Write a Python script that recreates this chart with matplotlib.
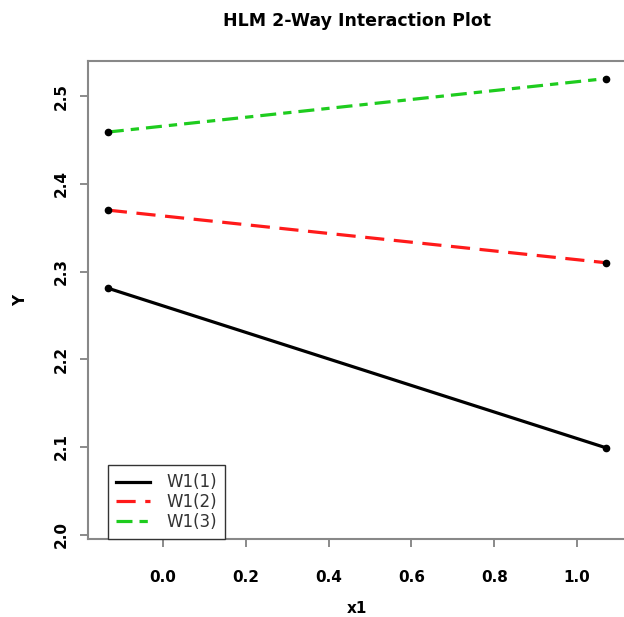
import matplotlib
matplotlib.use('Agg')
from matplotlib import pyplot as plt

# values
x_levels = [-0.133, 1.070]
w1_low = [2.281, 2.099]
w1_mid = [2.370, 2.310]
w1_high = [2.459, 2.520]
series_names = ['W1(1)', 'W1(2)', 'W1(3)']
x_ticks = [0.0, 0.2, 0.4, 0.6, 0.8, 1.0]
y_ticks = [2.0, 2.1, 2.2, 2.3, 2.4, 2.5]

colors = ['black', '#ff1a1a', '#1ecc1e']
styles = ['-', (0, (6, 3)), (0, (5, 2.2, 2.6, 2.2))]

fig = plt.figure(figsize=(6.24, 6.17), dpi=100)
ax = fig.add_axes([0.141, 0.1264, 0.862, 0.7747])

for ys, name, c, ls in zip([w1_low, w1_mid, w1_high], series_names, colors, styles):
    ax.plot(x_levels, ys, color=c, linestyle=ls, linewidth=2.3, label=name)
    ax.plot(x_levels, ys, 'o', color='black', markersize=4.5)

ax.set_xlim(-0.181, 1.118)
ax.set_ylim(1.995, 2.540)
ax.set_xticks(x_ticks)
ax.set_xticklabels([f'{v:.1f}' for v in x_ticks], fontweight='bold', fontsize=11)
ax.set_yticks(y_ticks)
ax.set_yticklabels([f'{v:.1f}' for v in y_ticks], fontweight='bold', fontsize=11,
                   rotation=90, va='center')
ax.tick_params(axis='both', length=6, width=1.2, color='#777777', direction='out')
ax.tick_params(axis='x', pad=16)
ax.tick_params(axis='y', pad=8)

for side in ['left', 'bottom', 'top', 'right']:
    ax.spines[side].set_color('#888888')
    ax.spines[side].set_linewidth(1.5)

ax.set_title('HLM 2-Way Interaction Plot', fontweight='bold', fontsize=12.5, pad=25)
ax.set_xlabel('x1', fontweight='bold', fontsize=11, labelpad=12)
ax.set_ylabel('Y', fontweight='bold', fontsize=11, labelpad=18)

leg = ax.legend(loc='lower left', bbox_to_anchor=(0.037, 0.0), fancybox=False,
                framealpha=1, edgecolor='#333333', fontsize=12, handlelength=2.0,
                handletextpad=1.0, labelspacing=0.1, borderpad=0.5, borderaxespad=0)
for t in leg.get_texts():
    t.set_color('#333333')
leg.get_frame().set_linewidth(1.0)

fig.savefig('out.png', dpi=100)
